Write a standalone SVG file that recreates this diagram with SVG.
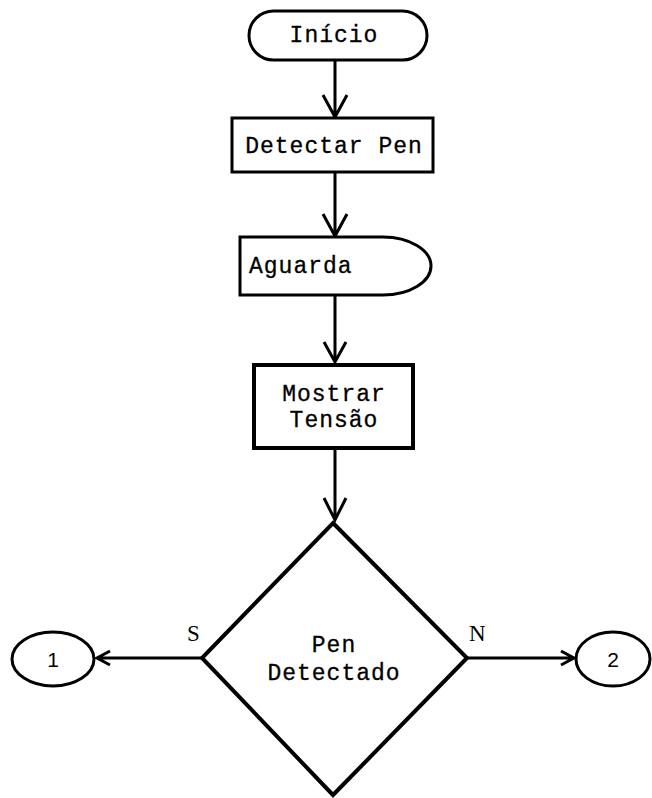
<svg xmlns="http://www.w3.org/2000/svg" width="652" height="798" viewBox="0 0 652 798">
<style>
.s{fill:#fff;stroke:#000;stroke-width:3}
.t{font-family:"Liberation Mono","Courier New",monospace;font-size:23px;letter-spacing:1px;fill:#000;stroke:#000;stroke-width:0.3}
.c{text-anchor:middle}
.l{fill:none;stroke:#000;stroke-width:3}
.lb{font-family:"Liberation Serif",serif;font-size:23px;fill:#000}
.n{font-family:"Liberation Sans",Arial,sans-serif;font-size:21px;fill:#000;text-anchor:middle}
</style>
<rect width="652" height="798" fill="#fff"/>
<g id="connectors">
<path class="l" d="M335,60 V117 M323,95 L335,117 L347,95"/>
<path class="l" d="M335,172 V236 M323,214 L335,236 L347,214"/>
<path class="l" d="M335,295 V362 M324,342 L335,362 L346,342"/>
<path class="l" d="M335,449 V520 M324,498 L335,520 L346,498"/>
<path class="l" d="M202,658 H97 M110,651 L97,658 L110,665"/>
<path class="l" d="M467,658 H574 M561,651 L574,658 L561,665"/>
</g>
<g id="inicio">
<rect class="s" x="249" y="11" width="178" height="49" rx="24.5"/>
<text class="t c" x="334" y="42">Início</text>
</g>
<g id="detectar">
<rect class="s" x="232" y="118" width="201" height="54"/>
<text class="t c" x="334" y="153">Detectar Pen</text>
</g>
<g id="aguarda">
<path class="s" d="M240,237 H383 A48,29 0 0 1 383,295 H240 Z"/>
<text class="t" x="249" y="273">Aguarda</text>
</g>
<g id="mostrar">
<rect class="s" x="254" y="365" width="159" height="83" style="stroke-width:4"/>
<text class="t c" x="334" y="401">Mostrar</text>
<text class="t c" x="334" y="427">Tensão</text>
</g>
<g id="decisao">
<polygon class="s" points="333,523 467,658 333,795 202,658" style="stroke-width:4"/>
<text class="t c" x="334" y="652">Pen</text>
<text class="t c" x="334" y="680">Detectado</text>
<text class="lb" x="187" y="641">S</text>
<text class="lb" x="469" y="641">N</text>
</g>
<g id="c1">
<ellipse class="s" cx="53" cy="659" rx="41" ry="27"/>
<text class="n" x="53" y="667">1</text>
</g>
<g id="c2">
<ellipse class="s" cx="613" cy="659" rx="37" ry="27"/>
<text class="n" x="613" y="667">2</text>
</g>
</svg>
